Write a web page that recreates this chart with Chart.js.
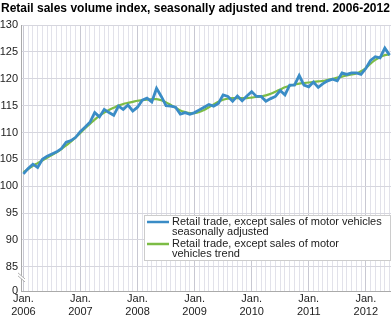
<!DOCTYPE html>
<html>
<head>
<meta charset="utf-8">
<script src="https://cdn.jsdelivr.net/npm/chart.js@4.4.1/dist/chart.umd.min.js"></script>
<style>
html,body{margin:0;padding:0;background:#fff;}
#wrap{position:relative;width:391px;height:330px;}
</style>
</head>
<body>
<div id="wrap"><canvas id="c"></canvas></div>
<script>
// ---- Data (monthly, Jan 2006 - Jun 2012) ----
const years = ['2006','2007','2008','2009','2010','2011','2012'];
const seasonallyAdjusted = [
  102.3,103.3,104.1,103.5,105.0,105.6,106.0,106.4,107.0,108.2,108.5,109.1,
  110.2,111.0,111.9,113.7,112.9,114.3,113.7,113.2,114.9,114.3,115.1,114.0,
  114.7,116.0,116.4,115.7,118.2,116.7,115.0,114.9,114.7,113.4,113.7,113.4,
  113.7,114.2,114.7,115.2,114.9,115.4,117.0,116.7,115.8,116.8,115.9,116.8,
  117.6,116.7,116.7,115.8,116.3,116.7,117.8,117.0,118.8,118.8,120.6,118.8,
  118.5,119.4,118.4,119.1,119.6,119.9,119.6,121.1,120.8,121.1,121.1,120.8,
  121.9,123.4,124.1,123.9,125.7,124.4
];
const trend = [
  102.6,103.2,103.8,104.3,104.8,105.3,105.8,106.3,106.9,107.6,108.3,109.1,
  109.9,110.8,111.6,112.4,113.1,113.7,114.2,114.6,115.0,115.3,115.5,115.7,
  115.9,116.0,116.1,116.2,116.2,116.0,115.6,115.1,114.6,114.1,113.8,113.6,
  113.6,113.8,114.2,114.7,115.2,115.7,116.1,116.3,116.4,116.4,116.4,116.4,
  116.5,116.6,116.7,116.9,117.2,117.6,118.0,118.4,118.7,118.9,119.1,119.2,
  119.3,119.4,119.5,119.6,119.8,120.0,120.2,120.4,120.6,120.8,121.0,121.4,
  122.0,122.8,123.5,124.0,124.4,124.5
];
const yTicks = [85,90,95,100,105,110,115,120,125,130];
const yBreakValue = 80.5;   // position used for the "0" label below the axis break
const seriesNames = [
  ['Retail trade, except sales of motor vehicles','seasonally adjusted'],
  ['Retail trade, except sales of motor','vehicles trend']
];
const titleText = 'Retail sales volume index, seasonally adjusted and trend. 2006-2012';

const BLUE = '#3a8cc6';
const GREEN = '#7cbc45';
const FONT = '"Liberation Sans", Arial, sans-serif';

const toPts = arr => arr.map((v,i)=>({x:i,y:v}));

const titlePlugin = {
  id:'titleText',
  afterDraw(chart){
    const ctx = chart.ctx;
    ctx.save();
    ctx.font = 'bold 12px ' + FONT;
    ctx.fillStyle = '#000';
    ctx.textBaseline = 'middle';
    ctx.textAlign = 'left';
    ctx.fillText(titleText, 1, 9);
    ctx.restore();
  }
};

const breakPlugin = {
  id:'axisBreak',
  afterDraw(chart){
    const ctx = chart.ctx;
    const x = chart.chartArea.left;
    const y85 = chart.scales.y.getPixelForValue(85);
    const y0 = chart.scales.y.getPixelForValue(yBreakValue);
    const ym = (y85 + y0)/2 - 2;
    ctx.save();
    ctx.fillStyle = '#fff';
    ctx.beginPath();
    ctx.moveTo(x-3, ym-4); ctx.lineTo(x+3, ym+1); ctx.lineTo(x+3, ym+4); ctx.lineTo(x-3, ym-1);
    ctx.closePath(); ctx.fill();
    ctx.strokeStyle = '#b0b0b0';
    ctx.lineWidth = 1;
    ctx.beginPath();
    ctx.moveTo(x-3, ym-4); ctx.lineTo(x+4, ym+2);
    ctx.moveTo(x-3, ym-1); ctx.lineTo(x+4, ym+5);
    ctx.stroke();
    ctx.restore();
  }
};

const legendPlugin = {
  id:'boxLegend',
  afterDraw(chart){
    const ctx = chart.ctx;
    ctx.save();
    const bx = 144.5, by = 215.5, bw = 246, bh = 45;
    ctx.fillStyle = '#fff';
    ctx.fillRect(bx, by, bw, bh);
    ctx.strokeStyle = '#cccccc';
    ctx.lineWidth = 1;
    ctx.strokeRect(bx, by, bw, bh);
    ctx.font = '11px ' + FONT;
    ctx.fillStyle = '#222';
    ctx.textBaseline = 'middle';
    const colors = [BLUE, GREEN];
    const rows = [[222,231.5],[244,254]];
    seriesNames.forEach((lines, i) => {
      ctx.strokeStyle = colors[i];
      ctx.lineWidth = 2.5;
      ctx.beginPath();
      ctx.moveTo(147, rows[i][0]); ctx.lineTo(169, rows[i][0]);
      ctx.stroke();
      lines.forEach((t, j) => ctx.fillText(t, 172, rows[i][j]));
    });
    ctx.restore();
  }
};

new Chart(document.getElementById('c'), {
  type:'line',
  data:{
    datasets:[
      {label:seriesNames[0].join(' '), data:toPts(seasonallyAdjusted), borderColor:BLUE, borderWidth:2.8, pointRadius:0, tension:0, order:1},
      {label:seriesNames[1].join(' '), data:toPts(trend), borderColor:GREEN, borderWidth:2.2, pointRadius:0, tension:0.4, order:2}
    ]
  },
  options:{
    responsive:true,
    maintainAspectRatio:false,
    animation:false,
    layout:{padding:{top:25,left:0,right:0,bottom:0}},
    plugins:{legend:{display:false}, title:{display:false}, tooltip:{enabled:false}},
    scales:{
      x:{
        type:'linear',
        min:-0.5,
        max:77.3,
        afterBuildTicks(s){ s.ticks = seasonallyAdjusted.map((_,i)=>({value:i})); },
        afterFit(s){ s.height = 39; },
        ticks:{
          autoSkip:false,
          maxRotation:0,
          padding:1,
          color:'#222',
          font:{family:FONT,size:11},
          callback(v){ return v % 12 === 0 ? ['Jan.', years[v/12]] : ''; }
        },
        grid:{
          drawTicks:false,
          color(c){ return (c.tick && c.tick.value % 12 === 0) ? '#c8c8d2' : '#e2e2ea'; },
          lineWidth:1
        },
        border:{color:'#aaaaaa'}
      },
      y:{
        type:'linear',
        min:yBreakValue,
        max:130,
        afterBuildTicks(s){ s.ticks = [yBreakValue].concat(yTicks).map(v=>({value:v})); },
        afterFit(s){ s.width = 21; },
        ticks:{
          padding:3,
          color:'#222',
          font:{family:FONT,size:11},
          callback(v){ return v === yBreakValue ? '0' : v; }
        },
        grid:{
          drawTicks:false,
          color(c){ return (c.tick && c.tick.value === yBreakValue) ? 'rgba(0,0,0,0)' : '#d6d6de'; }
        },
        border:{color:'#aaaaaa'}
      }
    }
  },
  plugins:[titlePlugin, breakPlugin, legendPlugin]
});
</script>
</body>
</html>
